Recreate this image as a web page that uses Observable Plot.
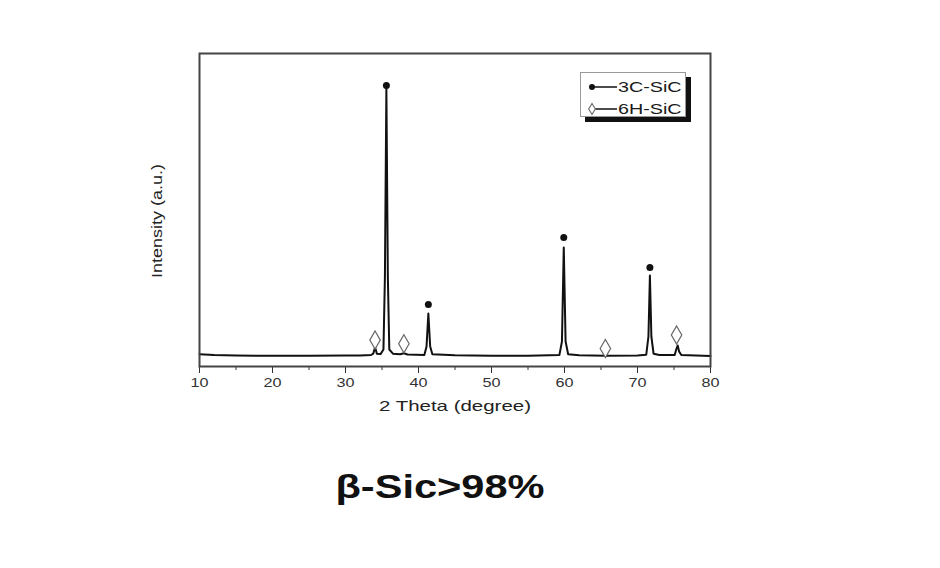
<!DOCTYPE html>
<html>
<head>
<meta charset="utf-8">
<script src="https://cdn.jsdelivr.net/npm/d3@7"></script>
<script src="https://cdn.jsdelivr.net/npm/@observablehq/plot@0.6"></script>
<style>
  html, body { margin: 0; padding: 0; background: #fff; }
  #wrap { position: relative; width: 940px; height: 568px; font-family: "Liberation Sans", Arial, sans-serif; }
  #legend { position: absolute; left: 580px; top: 72px; width: 104px; height: 43px; border: 1px solid #999; background: #fff; box-shadow: 5px 5px 0 #111; font-size: 14.5px; color: #1a1a1a; }
  #legend .row { position: absolute; left: 7px; height: 18px; display: flex; align-items: center; }
  #legend svg { display: block; }
  #legend span { display: inline-block; transform: scaleX(1.36); transform-origin: left center; }
  #title { position: absolute; left: 0; width: 879px; top: 470px; text-align: center; font-weight: bold; font-size: 33px; line-height: 33px; color: #111; }
  #title span { display: inline-block; transform: scaleX(1.26); transform-origin: center; }
</style>
</head>
<body>
<div id="wrap"></div>
<script>
// XRD pattern (2θ in degrees, intensity in a.u.)
const theta = [10, 12, 15, 20, 25, 30, 32, 33.5, 33.8, 34.05, 34.3, 34.8, 35.2, 35.4, 35.6, 35.8, 36.0, 36.5, 37.5, 38.0, 38.5, 40.8, 41.1, 41.35, 41.6, 41.9, 45, 50, 55, 59.3, 59.65, 59.9, 60.15, 60.5, 62, 65.6, 70, 71.2, 71.5, 71.7, 71.9, 72.2, 73, 75.1, 75.3, 75.5, 75.7, 76, 80];
const intensity = [122, 115, 110, 107, 107, 109, 111, 115, 128, 193, 128, 124, 170, 900, 2780, 900, 170, 128, 122, 133, 120, 115, 200, 530, 200, 122, 112, 108, 108, 114, 250, 1190, 250, 122, 112, 108, 110, 118, 300, 910, 300, 128, 115, 115, 170, 210, 150, 115, 106];

// Peak markers
const c3Theta = [35.6, 41.35, 59.9, 71.7];
const c3Mark = [2810, 620, 1290, 990];
const h6Theta = [34.05, 38.0, 65.6, 75.35];
const h6Mark = [264, 227, 180, 315];

const majorTicks = [10, 20, 30, 40, 50, 60, 70, 80];
const minorTicks = [15, 25, 35, 45, 55, 65, 75];

const xLabel = "2 Theta (degree)";
const yLabel = "Intensity (a.u.)";
const legendLabels = ["3C-SiC", "6H-SiC"];
const titleText = "β-Sic>98%";

const pattern = theta.map((t, i) => ({theta: t, intensity: intensity[i]}));
const c3 = c3Theta.map((t, i) => ({theta: t, y: c3Mark[i]}));
const h6 = h6Theta.map((t, i) => ({theta: t, y: h6Mark[i]}));

const chart = Plot.plot({
  width: 940,
  height: 455,
  marginLeft: 199,
  marginRight: 230,
  marginTop: 53,
  marginBottom: 89,
  style: {fontFamily: "'Liberation Sans', Arial, sans-serif", fontSize: "13px", color: "#333", background: "#fff"},
  x: {domain: [10, 80]},
  y: {domain: [0, 3130], axis: null},
  marks: [
    Plot.line(pattern, {x: "theta", y: "intensity", stroke: "#111", strokeWidth: 2}),
    Plot.dot(c3, {x: "theta", y: "y", r: 3.5, fill: "#111", stroke: "none", symbol: "circle"}),
    Plot.dot(h6, {x: "theta", y: "y", r: 5.5, fill: "#fff", stroke: "#666", strokeWidth: 1.2, symbol: "diamond"}),
    Plot.axisX({ticks: minorTicks, tickSize: 4, tickFormat: () => "", stroke: "#333", label: null}),
    Plot.axisX({ticks: majorTicks, tickSize: 7, tickPadding: 4, stroke: "#333", fill: "#333", fontSize: 13.5, label: null}),
    Plot.frame({stroke: "#444", strokeWidth: 2}),
    Plot.text([xLabel], {frameAnchor: "bottom", dy: 44, fontSize: 15, fill: "#222"}),
    Plot.text([yLabel], {frameAnchor: "left", textAnchor: "middle", dx: -42, dy: 11, rotate: -90, fontSize: 14.5, fill: "#222"})
  ]
});

const wrap = document.getElementById("wrap");
wrap.appendChild(chart);

// The reference figure is stretched horizontally; widen its texts to match
chart.querySelectorAll("text").forEach(t => {
  const s = t.textContent.trim();
  if (!s) return;
  const len = t.getComputedTextLength();
  let target = null;
  if (s === xLabel) target = 152;
  else if (s === yLabel) target = 114;
  else if (/^\d+$/.test(s)) target = len * 1.2;
  if (target) {
    t.setAttribute("textLength", target);
    t.setAttribute("lengthAdjust", "spacingAndGlyphs");
  }
});

// Legend
const legend = document.createElement("div");
legend.id = "legend";
const syms = [
  `<svg width="30" height="12"><circle cx="4" cy="6" r="3" fill="#111"/><line x1="6" y1="6" x2="29" y2="6" stroke="#111" stroke-width="1.5"/></svg>`,
  `<svg width="30" height="14"><path d="M4,1.5 L7.3,7 L4,12.5 L0.7,7 Z" fill="#fff" stroke="#666" stroke-width="1.1"/><line x1="7.5" y1="7" x2="29" y2="7" stroke="#111" stroke-width="1.5"/></svg>`
];
legendLabels.forEach((lab, i) => {
  const row = document.createElement("div");
  row.className = "row";
  row.style.top = (i === 0 ? 5 : 27) + "px";
  row.innerHTML = syms[i] + `<span>${lab}</span>`;
  legend.appendChild(row);
});
wrap.appendChild(legend);

const title = document.createElement("div");
title.id = "title";
title.innerHTML = `<span></span>`;
title.firstChild.textContent = titleText;
wrap.appendChild(title);
</script>
</body>
</html>
